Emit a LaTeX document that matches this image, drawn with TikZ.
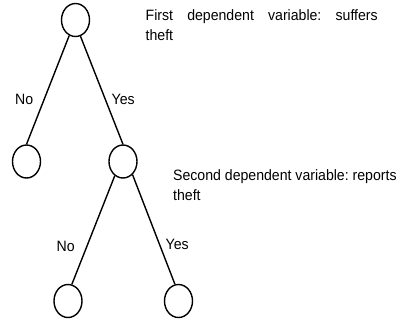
\documentclass[tikz,border=0pt]{standalone}
\usepackage{fontspec}
\setmainfont[FakeStretch=0.94]{Liberation Sans}
\usetikzlibrary{shapes.geometric}
\begin{document}
\frenchspacing
\begin{tikzpicture}[x=1bp,y=-1bp,
  state/.style={draw=black, line width=1.4bp, ellipse, inner sep=0pt,
    minimum width=28bp, minimum height=33bp},
  edge/.style={draw=black, line width=1.4bp},
  lab/.style={anchor=base west, inner sep=0pt, font=\fontsize{15bp}{20bp}\selectfont},
  note/.style={anchor=base west, inner sep=0pt, font=\fontsize{15bp}{20bp}\selectfont}]
\useasboundingbox (0,0) rectangle (403,322);
\node[state] (top) at (75.5,20) {};
\node[state] (l1) at (26.5,161.5) {};
\node[state] (r1) at (123,161.5) {};
\node[state] (l2) at (68,301) {};
\node[state] (r2) at (178.5,301) {};
\draw[edge] (top.-112) -- (l1.north);
\draw[edge] (top.-73) -- (r1.north);
\draw[edge] (r1.-120) -- (l2.77);
\draw[edge] (r1.-54) -- (r2.102);
\node[lab] (no1) at (15,104) {No};
\node[lab] (yes1) at (111.5,104) {Yes};
\node[lab] (no2) at (56.5,251) {No};
\node[lab] (yes2) at (165.5,249) {Yes};
\node[note] (t1) at (145.5,20) {\parbox[t]{240bp}{\frenchspacing\makebox[232bp][s]{First dependent variable: suffers}\\theft}};
\node[note] (t2) at (173,180.5) {\parbox[t]{240bp}{\frenchspacing Second dependent variable: reports\\theft}};
\end{tikzpicture}
\end{document}
